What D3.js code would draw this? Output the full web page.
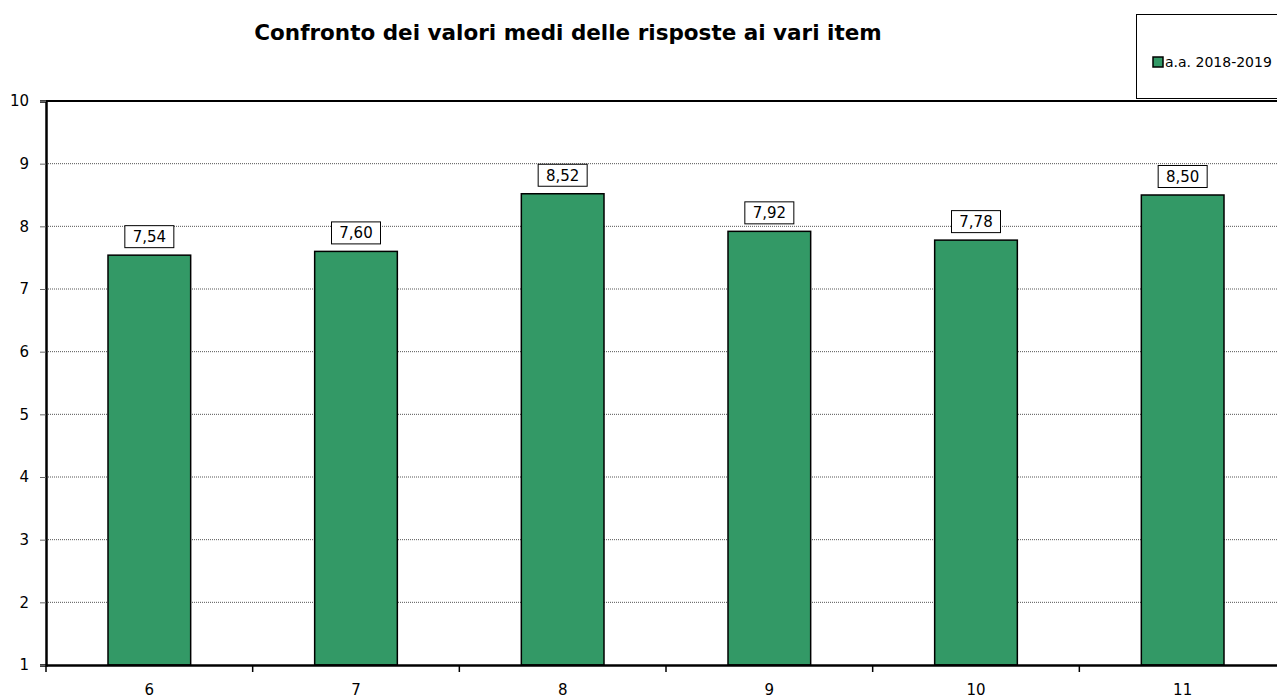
<!DOCTYPE html>
<html>
<head>
<meta charset="utf-8">
<script src="https://cdn.jsdelivr.net/npm/d3@7"></script>
<style>
  body { margin: 0; background: #fff; }
  svg { display: block; }
</style>
</head>
<body>
<svg id="chart"></svg>
<script>
const w = 1277;
const h = 699;

const items = ['6', '7', '8', '9', '10', '11'];
const medie = [7.54, 7.60, 8.52, 7.92, 7.78, 8.50];
const yTicks = [1, 2, 3, 4, 5, 6, 7, 8, 9, 10];
const serieNome = 'a.a. 2018-2019';
const titolo = 'Confronto dei valori medi delle risposte ai vari item';

const pLeft = 46, pTop = 101, pBottom = 665, pRight = 1286;
const tickFont = '"DejaVu Sans", Verdana, sans-serif';

const svg = d3.select('#chart').attr('width', w).attr('height', h);

const xScale = d3.scaleBand()
    .domain(items)
    .range([pLeft, pRight])
    .paddingInner(0.6)
    .paddingOuter(0.3);
const yScale = d3.scaleLinear()
    .domain([1, 10])
    .range([pBottom, pTop]);

// griglia
svg.append('g')
    .selectAll('line')
    .data(yTicks.filter(d => d > 1 && d < 10))
    .enter()
    .append('line')
    .attr('x1', pLeft).attr('x2', w)
    .attr('y1', d => yScale(d)).attr('y2', d => yScale(d))
    .attr('stroke', '#555')
    .attr('stroke-width', 1)
    .attr('stroke-dasharray', '1,1');

// barre
svg.append('g')
    .selectAll('rect')
    .data(medie)
    .enter()
    .append('rect')
    .attr('x', (d, i) => xScale(items[i]))
    .attr('y', d => yScale(d))
    .attr('width', xScale.bandwidth())
    .attr('height', d => yScale(1) - yScale(d))
    .attr('fill', '#339966')
    .attr('stroke', '#000')
    .attr('stroke-width', 1.5);

// etichette valori
const lab = svg.append('g')
    .selectAll('g')
    .data(medie)
    .enter()
    .append('g')
    .attr('transform', (d, i) => `translate(${xScale(items[i]) + xScale.bandwidth() / 2},${yScale(d) - 7})`);
lab.append('rect')
    .attr('x', -24.5).attr('y', -22.5)
    .attr('width', 49).attr('height', 22)
    .attr('fill', '#fff')
    .attr('stroke', '#000')
    .attr('stroke-width', 1);
lab.append('text')
    .attr('y', -6)
    .attr('text-anchor', 'middle')
    .style('font-family', tickFont)
    .style('font-size', '15px')
    .text(d => d.toFixed(2).replace('.', ','));

// linea superiore
svg.append('line')
    .attr('x1', pLeft).attr('x2', w)
    .attr('y1', pTop).attr('y2', pTop)
    .attr('stroke', '#000').attr('stroke-width', 2);

// asse Y
const yAxis = d3.axisLeft(yScale).tickValues(yTicks).tickSize(6).tickPadding(11);
const gy = svg.append('g')
    .attr('transform', `translate(${pLeft},0)`)
    .call(yAxis);
gy.select('.domain').attr('stroke-width', 2.5);
gy.selectAll('.tick line').attr('stroke', '#666');
gy.selectAll('text').style('font-family', tickFont).style('font-size', '15px').attr('fill', '#000');

// asse X
const xAxis = d3.axisBottom(xScale).tickSize(0).tickPadding(19);
const gx = svg.append('g')
    .attr('transform', `translate(0,${pBottom})`)
    .call(xAxis);
gx.select('.domain').attr('stroke-width', 2.5);
gx.selectAll('text').style('font-family', tickFont).style('font-size', '15px').attr('fill', '#000');
const step = xScale.step();
gx.selectAll('.sep')
    .data(items)
    .enter()
    .append('line')
    .attr('class', 'sep')
    .attr('x1', d => xScale(d) - xScale.paddingOuter() * step)
    .attr('x2', d => xScale(d) - xScale.paddingOuter() * step)
    .attr('y1', 0).attr('y2', 7)
    .attr('stroke', '#000').attr('stroke-width', 1.5);

// titolo
svg.append('text')
    .attr('x', 568).attr('y', 40)
    .attr('text-anchor', 'middle')
    .style('font-family', '"Comic Sans MS", "DejaVu Sans", sans-serif')
    .style('font-weight', 'bold')
    .style('font-size', '21.5px')
    .text(titolo);

// legenda
const leg = svg.append('g');
leg.append('rect')
    .attr('x', 1136.5).attr('y', 14.5)
    .attr('width', 150).attr('height', 84)
    .attr('fill', '#fff')
    .attr('stroke', '#000').attr('stroke-width', 1);
leg.append('rect')
    .attr('x', 1153).attr('y', 57)
    .attr('width', 10).attr('height', 10)
    .attr('fill', '#339966')
    .attr('stroke', '#000').attr('stroke-width', 1.5);
leg.append('text')
    .attr('x', 1165).attr('y', 67)
    .style('font-family', '"Comic Sans MS", "DejaVu Sans", sans-serif')
    .style('font-size', '14px')
    .text(serieNome);
</script>
</body>
</html>
